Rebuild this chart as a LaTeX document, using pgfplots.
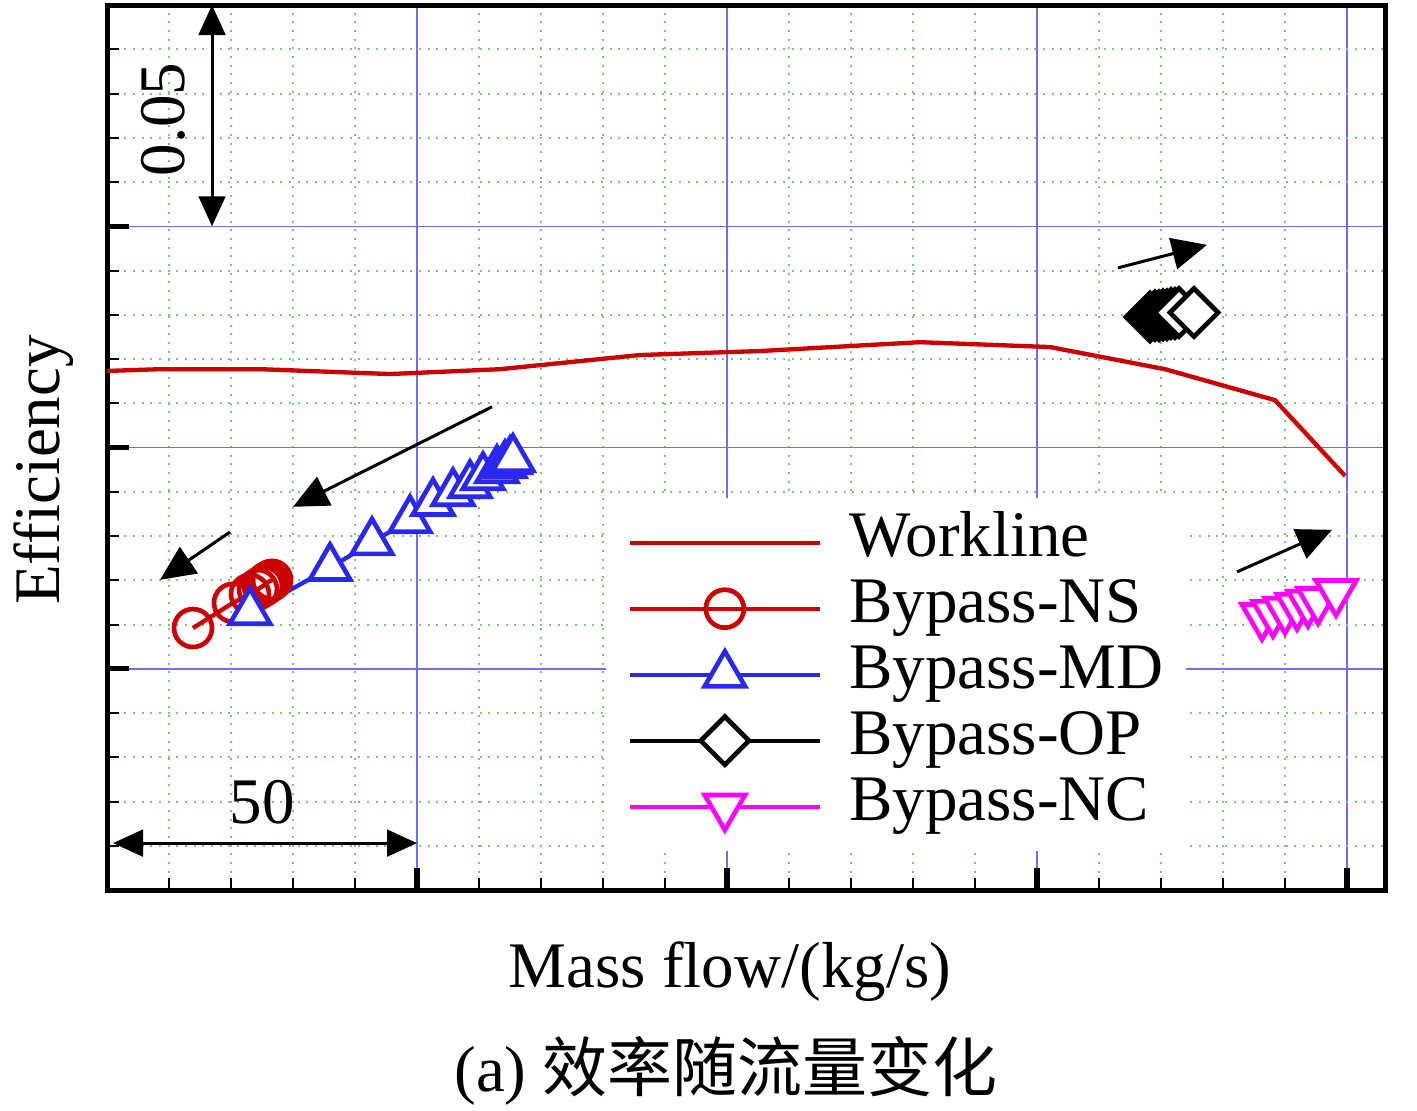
\documentclass[border=0pt]{standalone}
\usepackage{fontspec}
\setmainfont{Liberation Serif}
\newfontfamily\cjk{Noto Sans CJK SC}
\usepackage{pgfplots}
\pgfplotsset{compat=1.18}
\usetikzlibrary{arrows.meta}

\definecolor{wred}{RGB}{204,0,0}
\definecolor{mdblue}{RGB}{40,40,240}
\definecolor{ncmag}{RGB}{255,0,255}
\definecolor{majgrid}{RGB}{110,110,240}
\definecolor{mingrid}{RGB}{120,200,120}

\begin{document}
\fontsize{19.5pt}{23pt}\selectfont
\begin{tikzpicture}[font=\fontsize{19.5pt}{23pt}\selectfont]
\path[use as bounding box] (-32.1pt,-66pt) rectangle (393pt,267pt);
\begin{axis}[
  at={(0pt,0pt)}, anchor=south west,
  scale only axis, width=383.4pt, height=265.5pt,
  xmin=0, xmax=206.13, ymin=0, ymax=0.2,
  xtick={50,100,150,200}, ytick={0.05,0.1,0.15},
  minor xtick={10,20,30,40,60,70,80,90,110,120,130,140,160,170,180,190},
  minor ytick={0.01,0.02,0.03,0.04,0.06,0.07,0.08,0.09,0.11,0.12,0.13,0.14,0.16,0.17,0.18,0.19},
  xticklabels={}, yticklabels={},
  xtick pos=bottom, ytick pos=left, tick align=inside,
  major tick length=6.6pt, minor tick length=3.6pt,
  every major tick/.append style={black, line width=1.6pt},
  every minor tick/.append style={black, line width=0.6pt},
  grid=both,
  major grid style={majgrid, line width=0.45pt, solid},
  minor grid style={mingrid, line width=0.6pt, dotted},
  axis line style={line width=1.5pt},
  clip=false,
  xlabel={Mass flow/(kg/s)},
  xlabel style={at={(axis description cs:0.4875,-0.1107)}, anchor=base},
  ylabel={Efficiency},
  ylabel style={at={(axis description cs:-0.0368,0.4746)}, anchor=base},
  legend style={at={(axis description cs:0.3897,0.4435)}, anchor=north west,
    draw=none, fill=white, inner xsep=6.6pt, inner ysep=3.6pt,
    row sep=0.3pt, column sep=8.2pt,
    nodes={inner sep=0pt, text height=14pt, text depth=5.5pt}},
  legend cell align=left,
  legend image code/.code={\draw[mark repeat=2,mark phase=2] plot coordinates {(0pt,0pt) (28.5pt,0pt) (57pt,0pt)};},
]
\addplot[wred, line width=1.3pt, no markers] coordinates {
 (0.00,0.1173) (8.55,0.1177) (24.68,0.1177) (45.65,0.1166) (63.39,0.1177)
 (85.97,0.1209) (105.32,0.1218) (131.13,0.1238) (152.10,0.1227)
 (170.65,0.1177) (188.39,0.1107) (199.68,0.0936)};
\addlegendentry{Workline}
\addplot[wred, line width=1.3pt, mark=o, mark size=5.7pt, mark options={fill=white, line width=1.4pt}] coordinates {
 (13.87,0.0592) (20.32,0.0649) (23.06,0.0669) (24.35,0.0680) (25.16,0.0687)
 (25.65,0.0692) (25.97,0.0696) (26.29,0.0698) (26.61,0.0701)};
\addlegendentry{Bypass-NS}
\addplot[mdblue, line width=1.3pt, mark=triangle*, mark size=7pt, mark options={fill=white, line width=1.4pt}] coordinates {
 (23.06,0.0628) (35.97,0.0728) (42.74,0.0786) (48.87,0.0836) (52.58,0.0875)
 (55.81,0.0897) (58.55,0.0915) (60.65,0.0933) (62.90,0.0949) (64.19,0.0960)
 (65.00,0.0969) (65.48,0.0974)};
\addlegendentry{Bypass-MD}
\addplot[black, line width=1.3pt, mark=square*, mark size=5.1pt, mark options={fill=white, line width=1.4pt, rotate=45}] coordinates {
 (168.23,0.1295) (169.03,0.1298) (169.68,0.1298) (170.32,0.1300) (170.97,0.1300)
 (171.61,0.1303) (172.26,0.1303) (172.90,0.1305) (175.32,0.1305)};
\addlegendentry{Bypass-OP}
\addplot[ncmag, line width=1.3pt, mark=triangle*, mark size=7pt, mark options={fill=white, line width=1.4pt, rotate=180}] coordinates {
 (186.29,0.0619) (188.06,0.0626) (190.00,0.0633) (191.94,0.0642) (193.71,0.0649)
 (195.32,0.0655) (198.23,0.0673)};
\addlegendentry{Bypass-NC}

% annotations
\draw[{Triangle[length=9pt,width=8pt]}-{Triangle[length=9pt,width=8pt]}, line width=0.9pt] (axis cs:16.94,0.2) -- (axis cs:16.94,0.15);
\draw[{Triangle[length=9pt,width=8pt]}-{Triangle[length=9pt,width=8pt]}, line width=0.9pt] (axis cs:0.97,0.0106) -- (axis cs:50,0.0106);
\node[anchor=base, rotate=90] at (axis cs:12.58,0.1741) {0.05};
\node[anchor=base] at (axis cs:25.0,0.0151) {50};
\draw[-{Triangle[length=10.5pt,width=9.5pt]}, line width=0.9pt] (axis cs:163.06,0.1406) -- (axis cs:177.42,0.1458);
\draw[-{Triangle[length=10.5pt,width=9.5pt]}, line width=0.9pt] (axis cs:62.10,0.1092) -- (axis cs:30.0,0.0866);
\draw[-{Triangle[length=10.5pt,width=9.5pt]}, line width=0.9pt] (axis cs:19.84,0.0809) -- (axis cs:8.55,0.0701);
\draw[-{Triangle[length=10.5pt,width=9.5pt]}, line width=0.9pt] (axis cs:182.26,0.0719) -- (axis cs:197.58,0.0814);
\node[anchor=base] at (axis description cs:0.4844,-0.2282) {(a) {\cjk 效率随流量变化}};
\end{axis}
\end{tikzpicture}
\end{document}
